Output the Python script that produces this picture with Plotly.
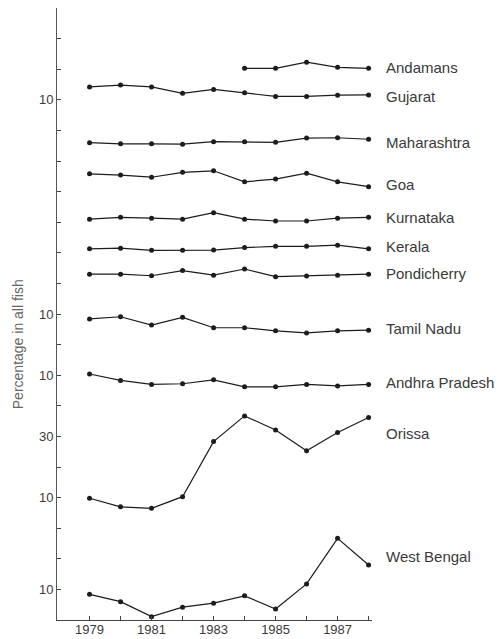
import plotly.graph_objects as go

# Years of the survey
years = [1979, 1980, 1981, 1982, 1983, 1984, 1985, 1986, 1987, 1988]
years_andamans = [1984, 1985, 1986, 1987, 1988]

# Offset series (stacked on one shared axis, one tick unit per step)
andamans = [18.03, 18.03, 18.23, 18.06, 18.03]
gujarat = [17.42, 17.48, 17.42, 17.21, 17.34, 17.23, 17.11, 17.11, 17.15, 17.16]
maharashtra = [15.60, 15.56, 15.56, 15.55, 15.63, 15.63, 15.61, 15.75, 15.76, 15.71]
goa = [14.58, 14.54, 14.47, 14.63, 14.68, 14.32, 14.41, 14.60, 14.32, 14.16]
kurnataka = [13.10, 13.16, 13.13, 13.10, 13.31, 13.10, 13.04, 13.04, 13.13, 13.16]
kerala = [12.13, 12.15, 12.08, 12.08, 12.09, 12.17, 12.21, 12.21, 12.25, 12.13]
pondicherry = [11.30, 11.30, 11.25, 11.42, 11.27, 11.47, 11.22, 11.24, 11.27, 11.30]
tamil_nadu = [9.84, 9.91, 9.64, 9.89, 9.55, 9.55, 9.45, 9.38, 9.45, 9.47]
andhra_pradesh = [8.04, 7.83, 7.70, 7.72, 7.85, 7.62, 7.62, 7.70, 7.65, 7.70]
orissa = [3.98, 3.70, 3.65, 4.03, 5.83, 6.67, 6.21, 5.53, 6.13, 6.62]
west_bengal = [0.84, 0.60, 0.11, 0.42, 0.55, 0.79, 0.36, 1.18, 2.67, 1.80]

series_names = ["Andamans", "Gujarat", "Maharashtra", "Goa", "Kurnataka", "Kerala",
                "Pondicherry", "Tamil Nadu", "Andhra Pradesh", "Orissa", "West Bengal"]
series_x = [years_andamans] + [years] * 10
series_y = [andamans, gujarat, maharashtra, goa, kurnataka, kerala,
            pondicherry, tamil_nadu, andhra_pradesh, orissa, west_bengal]
label_y = [18.04, 17.12, 15.62, 14.22, 13.17, 12.19, 11.31, 9.51, 7.75, 6.08, 2.06]

# Axis ticks
y_tickvals = list(range(1, 20))
y_ticklabels = {1: "10", 4: "10", 6: "30", 8: "10", 10: "10", 17: "10"}
x_ticklabels = {1979: "1979", 1981: "1981", 1983: "1983", 1985: "1985", 1987: "1987"}

FONT = "Liberation Sans, Arial, sans-serif"
INK = "#1c1c1c"
TEXT = "#3a3a3a"

fig = go.Figure()
for name, xs, ys in zip(series_names, series_x, series_y):
    fig.add_trace(go.Scatter(
        x=xs, y=ys, mode="lines+markers", name=name,
        line=dict(color=INK, width=1.2),
        marker=dict(color=INK, size=5, symbol="circle"),
        cliponaxis=False, showlegend=False,
    ))

# State names to the right of the plotting area
for name, ly in zip(series_names, label_y):
    fig.add_annotation(
        x=1.038, y=ly, xref="paper", yref="y", text=name, showarrow=False,
        xanchor="left", yanchor="middle",
        font=dict(family=FONT, size=15, color=TEXT),
    )

fig.add_annotation(
    x=-0.125, y=9.0, xref="paper", yref="y", text="Percentage in all fish",
    showarrow=False, textangle=-90, xanchor="center", yanchor="middle",
    font=dict(family=FONT, size=14, color="#666666"),
)

fig.update_xaxes(
    range=[1977.95, 1988.11], tickvals=years,
    ticktext=[x_ticklabels.get(y, "") for y in years],
    ticks="inside", ticklen=4, tickcolor="#444444",
    showline=True, linecolor="#444444", linewidth=1,
    showgrid=False, zeroline=False, automargin=False,
    ticklabelstandoff=-3,
    tickfont=dict(family=FONT, size=13, color=TEXT),
)
fig.update_yaxes(
    range=[0, 20], tickvals=y_tickvals,
    ticktext=[y_ticklabels.get(v, "") for v in y_tickvals],
    ticks="inside", ticklen=4, tickcolor="#444444",
    showline=True, linecolor="#555555", linewidth=1,
    showgrid=False, zeroline=False, automargin=False,
    tickfont=dict(family=FONT, size=13, color=TEXT),
)

fig.update_layout(
    width=498, height=639,
    margin=dict(l=57, r=126, t=8, b=19, pad=0),
    paper_bgcolor="white", plot_bgcolor="white",
)

fig.write_html("out.html")
